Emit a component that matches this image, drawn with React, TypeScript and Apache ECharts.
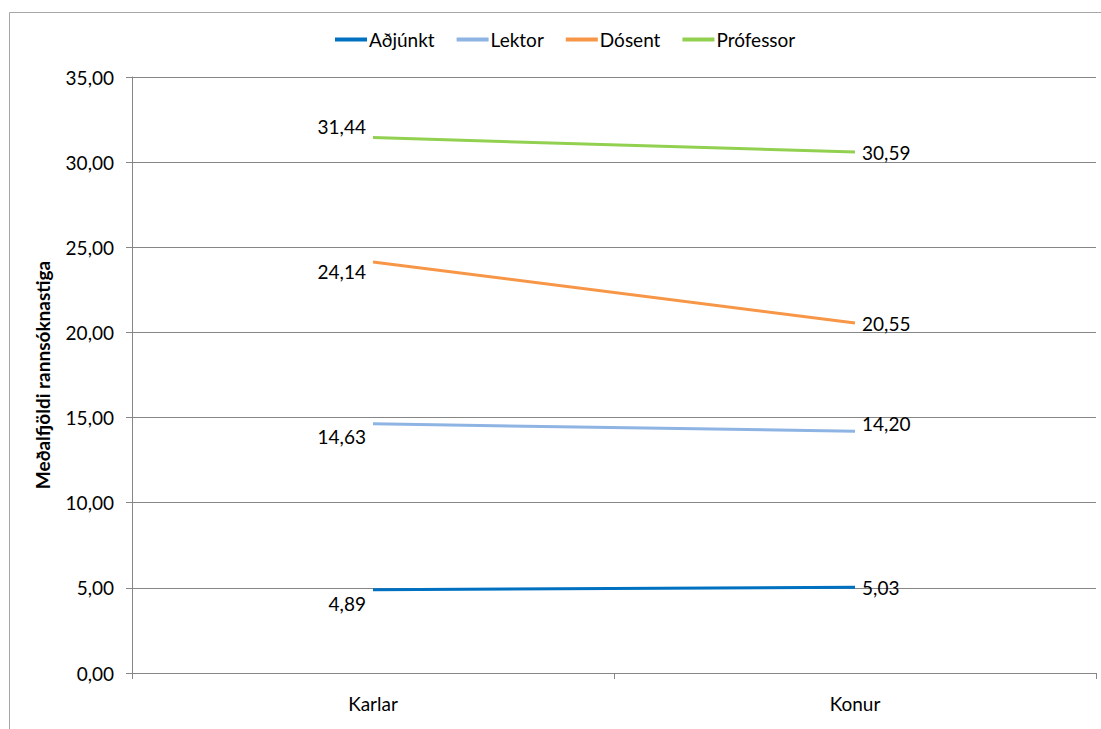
import React, { useEffect, useRef } from "react";
import * as echarts from "echarts";

const categories = ["Karlar", "Konur"];
const seriesNames = ["Aðjúnkt", "Lektor", "Dósent", "Prófessor"];
const adjunkt = [4.89, 5.03];
const lektor = [14.63, 14.2];
const dosent = [24.14, 20.55];
const professor = [31.44, 30.59];
const colors = ["#0070C0", "#8EB4E3", "#F79646", "#92D050"];
// label vertical offsets for [Karlar, Konur]
const labelOffsets = [
  [14, 0],
  [13, -8],
  [10, 0],
  [-11, 0],
];

const FONT = "Lato, 'Open Sans', sans-serif";
const FS = 19;
const fmt = (v: number) => v.toFixed(2).replace(".", ",");

export default function App() {
  const ref = useRef<HTMLDivElement>(null);
  useEffect(() => {
    if (!ref.current) return;
    const chart = echarts.init(ref.current, null, { renderer: "svg" });
    const allData = [adjunkt, lektor, dosent, professor];
    chart.setOption({
      animation: false,
      backgroundColor: "#fff",
      textStyle: { fontFamily: FONT },
      graphic: [
        {
          type: "rect",
          shape: { x: 9.5, y: 12.5, width: 1200, height: 800 },
          style: { fill: "none", stroke: "#A6A6A6", lineWidth: 1 },
          silent: true,
        },
      ],
      legend: {
        top: 25,
        left: 330,
        itemWidth: 32,
        itemHeight: 4,
        itemGap: 22,
        icon: "rect",
        textStyle: { fontFamily: FONT, fontSize: FS, color: "#000", padding: [0, 0, 0, -3] },
        data: seriesNames,
      },
      grid: {
        left: 132,
        right: 5,
        top: 77,
        bottom: 56,
        outerBoundsMode: "none",
        containLabel: false,
      },
      xAxis: {
        type: "category",
        data: categories,
        boundaryGap: true,
        axisLine: { lineStyle: { color: "#868686", width: 1 } },
        axisTick: { show: true, length: 6, lineStyle: { color: "#868686" } },
        axisLabel: { color: "#000", fontSize: FS, margin: 21, fontFamily: FONT },
      },
      yAxis: {
        type: "value",
        min: 0,
        max: 35,
        interval: 5,
        name: "Meðalfjöldi rannsóknastiga",
        nameLocation: "middle",
        nameGap: 80,
        nameTextStyle: { fontWeight: "bold", fontSize: FS, color: "#000", fontFamily: FONT },
        axisLine: { show: true, lineStyle: { color: "#868686", width: 1 } },
        axisTick: { show: true, length: 6, lineStyle: { color: "#868686" } },
        axisLabel: { color: "#000", fontSize: FS, margin: 18, fontFamily: FONT, formatter: (v: number) => fmt(v) },
        splitLine: { show: true, lineStyle: { color: "#868686", width: 1 } },
      },
      series: allData.map((d, i) => ({
        name: seriesNames[i],
        type: "line",
        color: colors[i],
        showSymbol: true,
        symbol: "circle",
        symbolSize: 0.1,
        itemStyle: { color: colors[i] },
        lineStyle: { width: 3, color: colors[i] },
        z: 3,
        label: { show: true },
        data: d.map((v, j) => ({
          value: v,
          label: {
            show: true,
            position: j === 0 ? "left" : "right",
            distance: 7,
            offset: [0, labelOffsets[i][j]],
            color: "#000",
            fontSize: FS,
            fontFamily: FONT,
            formatter: () => fmt(v),
          },
        })),
      })),
    });
    return () => chart.dispose();
  }, []);
  return (
    <div
      ref={ref}
      style={{ position: "fixed", left: 0, top: 0, width: 1101, height: 729 }}
    />
  );
}
